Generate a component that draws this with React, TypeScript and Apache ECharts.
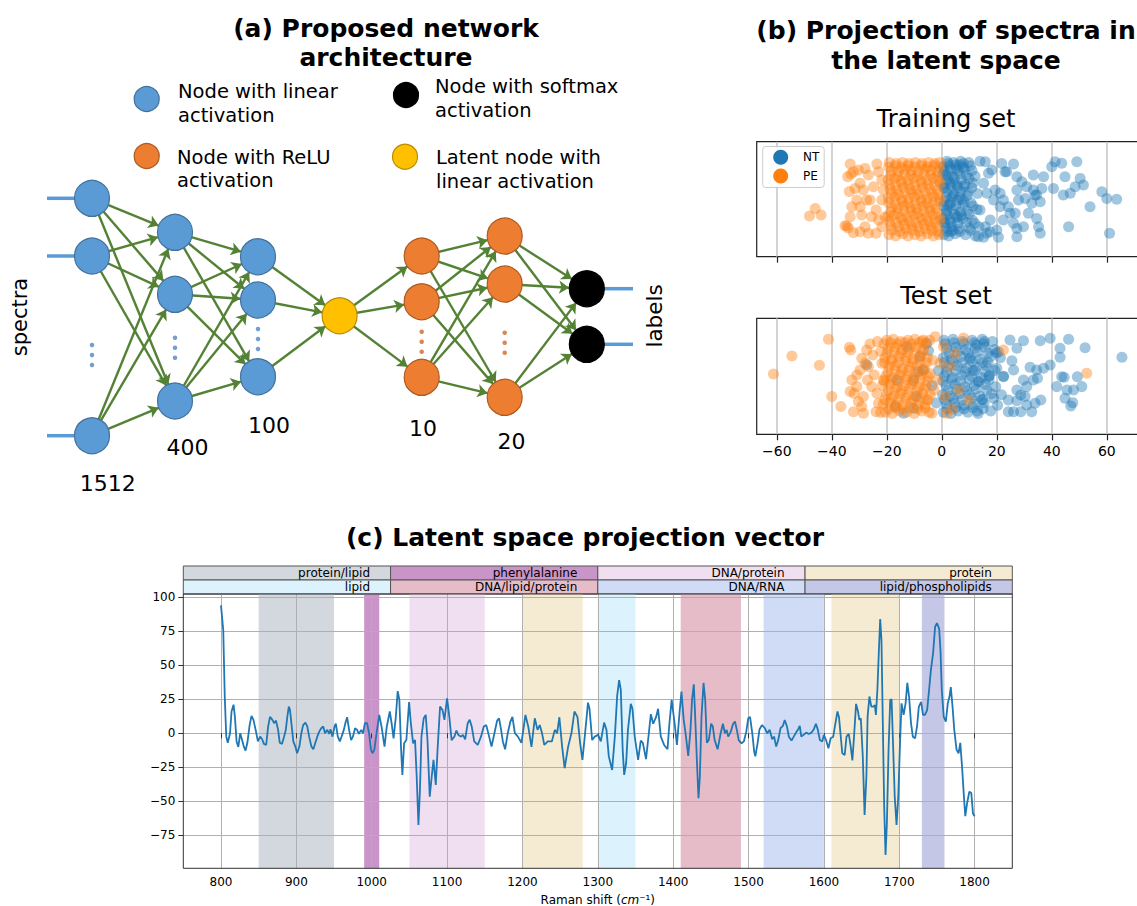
import React, { useEffect, useRef } from "react";
import * as echarts from "echarts";

const FONT = '"DejaVu Sans", Verdana, sans-serif';

// ---------------- (a) network architecture ----------------
const layerSizeLabels = ["1512", "400", "100", "", "10", "20", ""];
const nodeLegendTexts = [
  "Node with linear\nactivation",
  "Node with ReLU\nactivation",
  "Node with softmax\nactivation",
  "Latent node with\nlinear activation",
];

// ---------------- (b) latent projection ----------------
const bTicks = [-60, -40, -20, 0, 20, 40, 60];

const trainPE: number[][] = [
  [-48.1, 0.354], [-46.0, 0.42], [-43.9, 0.362],
  [-33.3, 0.806], [-33.0, 0.72], [-33.6, 0.567], [-32.1, 0.739], [-30.3, 0.754], [-29.7, 0.638],
  [-27.9, 0.768], [-26.7, 0.71], [-23.6, 0.806], [-23.0, 0.739], [-21.8, 0.667], [-33.3, 0.348],
  [-34.5, 0.267], [-32.1, 0.209], [-29.7, 0.435], [-29.1, 0.362], [-27.9, 0.261], [-26.1, 0.493],
  [-24.8, 0.609], [-23.9, 0.406], [-23.0, 0.319], [-21.8, 0.261], [-28.5, 0.58], [-27.3, 0.493],
  [-31.5, 0.594], [-30.9, 0.493], [-32.7, 0.435], [-25.5, 0.348], [-23.9, 0.203], [-21.8, 0.493],
  [-21.2, 0.58], [-26.7, 0.203], [-29.7, 0.217], [-34.2, 0.696], [-20.6, 0.348], [-35.2, 0.27], [-34.0, 0.25],
  [-19.2, 0.19], [-16.8, 0.18], [-14.1, 0.2], [-12.3, 0.18], [-9.8, 0.19], [-7.5, 0.18], [-5.2, 0.2], [-3.1, 0.18], [-1.0, 0.19],
  [-18.0, 0.23], [-15.3, 0.22], [-12.9, 0.24], [-10.6, 0.23], [-8.2, 0.22], [-5.9, 0.24], [-3.6, 0.23], [-1.3, 0.22],
  [-18.5, 0.27], [-15.9, 0.26], [-13.5, 0.28], [-11.0, 0.27], [-8.7, 0.26], [-6.4, 0.28], [-4.0, 0.27], [-1.8, 0.26],
  [-19.0, 0.31], [-16.5, 0.3], [-14.2, 0.32], [-11.8, 0.31], [-9.5, 0.3], [-7.1, 0.32], [-4.8, 0.31], [-2.6, 0.3], [-0.6, 0.32],
  [-19.6, 0.35], [-17.4, 0.36], [-15.0, 0.34], [-12.7, 0.35], [-10.1, 0.36], [-7.9, 0.34], [-5.6, 0.35], [-3.3, 0.36], [-0.9, 0.34],
  [-18.6, 0.39], [-16.2, 0.38], [-13.7, 0.4], [-11.2, 0.39], [-8.9, 0.38], [-6.6, 0.4], [-4.2, 0.39], [-1.9, 0.38],
  [-18.1, 0.43], [-16.0, 0.42], [-13.8, 0.44], [-11.4, 0.43], [-9.2, 0.42], [-6.8, 0.44], [-4.5, 0.43], [-2.2, 0.42],
  [-19.3, 0.47], [-16.9, 0.46], [-14.4, 0.48], [-12.2, 0.47], [-9.7, 0.46], [-7.6, 0.48], [-5.3, 0.47], [-3.1, 0.46], [-1.0, 0.48],
  [-19.4, 0.51], [-17.0, 0.52], [-14.6, 0.5], [-12.1, 0.51], [-9.9, 0.52], [-7.4, 0.5], [-5.1, 0.51], [-2.9, 0.52], [-0.7, 0.5],
  [-18.2, 0.55], [-15.7, 0.54], [-13.3, 0.56], [-10.9, 0.55], [-8.5, 0.54], [-6.1, 0.56], [-3.7, 0.55], [-1.4, 0.54],
  [-18.8, 0.59], [-16.3, 0.58], [-13.9, 0.6], [-11.6, 0.59], [-9.3, 0.58], [-7.0, 0.6], [-4.4, 0.59], [-1.6, 0.58],
  [-19.0, 0.63], [-16.7, 0.62], [-14.5, 0.64], [-12.0, 0.63], [-9.8, 0.62], [-7.3, 0.64], [-4.9, 0.63], [-2.7, 0.62], [-0.6, 0.64],
  [-19.5, 0.67], [-17.2, 0.68], [-14.9, 0.66], [-12.4, 0.67], [-10.2, 0.68], [-7.7, 0.66], [-5.4, 0.67], [-3.0, 0.68], [-1.1, 0.66],
  [-18.6, 0.71], [-16.1, 0.7], [-13.6, 0.72], [-11.3, 0.71], [-8.9, 0.7], [-6.5, 0.72], [-4.1, 0.71], [-1.8, 0.7],
  [-18.3, 0.75], [-15.8, 0.74], [-13.4, 0.76], [-11.1, 0.75], [-8.6, 0.74], [-6.2, 0.76], [-3.9, 0.75], [-1.5, 0.74],
  [-19.3, 0.78], [-17.0, 0.79], [-14.7, 0.78], [-12.2, 0.79], [-9.9, 0.78], [-7.5, 0.79], [-5.2, 0.78], [-2.9, 0.79], [-0.9, 0.78],
  [-19.1, 0.82], [-16.6, 0.81], [-14.3, 0.82], [-12.0, 0.81], [-9.6, 0.82], [-7.2, 0.81], [-4.8, 0.82], [-2.5, 0.81], [-0.8, 0.82],
];

const trainNT: number[][] = [
  [0.8, 0.19], [2.5, 0.18], [4.9, 0.2], [8.6, 0.19], [12.2, 0.18],
  [1.9, 0.22], [4.0, 0.23], [6.6, 0.22], [10.5, 0.23],
  [1.4, 0.25], [3.6, 0.26], [6.2, 0.24], [10.0, 0.25], [13.5, 0.26],
  [0.9, 0.29], [3.4, 0.3], [5.8, 0.29], [8.9, 0.3], [12.0, 0.29],
  [0.5, 0.33], [2.9, 0.32], [5.3, 0.34], [7.6, 0.33], [11.1, 0.32],
  [2.0, 0.36], [4.6, 0.37], [7.1, 0.36], [9.9, 0.37],
  [1.7, 0.4], [4.1, 0.41], [6.8, 0.39], [9.2, 0.4], [12.8, 0.41],
  [0.6, 0.44], [2.8, 0.45], [5.1, 0.44], [7.8, 0.45], [11.3, 0.44],
  [0.9, 0.48], [3.2, 0.47], [5.7, 0.49], [8.1, 0.48], [10.6, 0.47],
  [1.6, 0.52], [4.1, 0.53], [6.5, 0.52], [9.2, 0.53],
  [2.0, 0.56], [4.4, 0.55], [7.0, 0.57], [9.5, 0.56], [13.0, 0.55],
  [0.8, 0.6], [3.3, 0.61], [5.9, 0.6], [8.1, 0.61], [10.9, 0.6],
  [0.7, 0.63], [3.0, 0.64], [5.5, 0.62], [8.4, 0.63], [11.4, 0.64],
  [2.1, 0.67], [4.5, 0.68], [7.2, 0.67], [9.9, 0.68],
  [1.5, 0.71], [3.9, 0.7], [6.5, 0.72], [9.0, 0.71], [12.1, 0.7],
  [0.9, 0.75], [3.2, 0.76], [5.8, 0.75], [8.3, 0.76], [11.0, 0.75],
  [0.6, 0.78], [2.7, 0.79], [5.1, 0.77], [7.7, 0.78], [10.4, 0.79],
  [2.3, 0.81], [5.0, 0.8], [7.9, 0.81],
  [1.9, 0.83], [4.3, 0.82], [6.9, 0.83], [9.8, 0.82], [13.9, 0.83],
  [1.2, 0.3], [2.2, 0.45], [1.1, 0.6], [2.4, 0.7], [3.5, 0.52], [1.6, 0.38],
  [0.4, 0.72], [4.6, 0.64], [5.9, 0.35], [3.3, 0.22], [6.4, 0.8], [7.3, 0.5],
  [15.8, 0.826], [17.0, 0.725], [18.2, 0.754], [15.2, 0.638], [16.4, 0.551], [13.9, 0.406],
  [15.8, 0.261], [17.6, 0.319], [18.8, 0.493], [19.4, 0.58], [15.2, 0.17], [13.3, 0.174],
  [16.4, 0.203], [17.6, 0.217], [21.8, 0.81], [26.1, 0.806], [23.0, 0.739], [23.6, 0.739],
  [27.3, 0.696], [29.1, 0.652], [30.9, 0.609], [33.3, 0.71], [34.5, 0.536], [37.0, 0.696],
  [27.3, 0.58], [27.9, 0.493], [30.3, 0.507], [32.7, 0.464], [33.9, 0.536], [35.8, 0.478],
  [31.5, 0.377], [34.5, 0.333], [35.2, 0.261], [35.8, 0.203], [26.7, 0.377], [27.3, 0.246],
  [27.3, 0.174], [29.7, 0.261], [22.4, 0.493], [24.2, 0.435], [24.8, 0.377], [21.2, 0.551],
  [26.1, 0.29], [21.2, 0.435], [22.4, 0.319], [20.0, 0.232], [20.6, 0.17],
  [40.0, 0.783], [41.2, 0.826], [43.6, 0.812], [49.1, 0.826], [44.8, 0.696], [50.3, 0.681],
  [48.5, 0.609], [51.5, 0.623], [40.6, 0.594], [44.2, 0.536], [46.7, 0.551], [53.9, 0.435],
  [58.2, 0.565], [60.0, 0.507], [63.6, 0.5], [46.1, 0.261], [61.0, 0.203], [36.4, 0.594], [33.3, 0.58],
];

const testPE: number[][] = [
  [-61.2, 0.52], [-54.5, 0.675], [-44.5, 0.595], [-41.2, 0.82], [-40.0, 0.325], [-36.7, 0.24],
  [-33.6, 0.75], [-33.1, 0.727],
  [-32.7, 0.468], [-33.3, 0.368], [-31.9, 0.353], [-30.9, 0.411], [-32.1, 0.195], [-30.3, 0.282],
  [-29.1, 0.239], [-28.5, 0.181], [-29.7, 0.555], [-27.9, 0.612], [-29.1, 0.655], [-27.3, 0.727],
  [-26.1, 0.779], [-25.1, 0.684], [-24.6, 0.511], [-25.5, 0.411], [-23.6, 0.353], [-23.0, 0.267],
  [-23.9, 0.195], [-22.2, 0.187], [-21.8, 0.612], [-23.4, 0.799], [-22.2, 0.713], [-21.2, 0.468],
  [-27.0, 0.468], [-28.5, 0.325], [-26.7, 0.583], [-30.9, 0.511],
  [-20.5, 0.19], [-18.0, 0.18], [-15.4, 0.2], [-12.8, 0.19], [-10.0, 0.18], [-7.3, 0.2], [-4.6, 0.19],
  [-19.3, 0.22], [-16.8, 0.23], [-14.1, 0.22], [-11.5, 0.23], [-8.8, 0.22], [-6.0, 0.23],
  [-21.3, 0.26], [-19.0, 0.27], [-16.6, 0.25], [-14.0, 0.26], [-11.2, 0.27], [-8.7, 0.25], [-6.0, 0.26],
  [-20.7, 0.3], [-18.3, 0.31], [-15.8, 0.3], [-13.2, 0.31], [-10.5, 0.3], [-7.8, 0.31], [-5.0, 0.3],
  [-20.1, 0.34], [-17.5, 0.33], [-15.0, 0.35], [-12.4, 0.34], [-9.6, 0.33], [-7.0, 0.35], [-4.2, 0.34],
  [-19.5, 0.38], [-17.0, 0.39], [-14.5, 0.38], [-11.8, 0.39], [-9.1, 0.38], [-6.4, 0.39],
  [-21.6, 0.42], [-18.9, 0.43], [-16.2, 0.41], [-13.5, 0.42], [-11.0, 0.43], [-8.3, 0.41], [-5.7, 0.42],
  [-20.9, 0.46], [-18.4, 0.47], [-15.7, 0.46], [-13.0, 0.47], [-10.4, 0.46], [-7.9, 0.47], [-5.2, 0.46],
  [-20.4, 0.5], [-17.8, 0.49], [-15.3, 0.51], [-12.6, 0.5], [-10.1, 0.49], [-7.5, 0.51], [-4.9, 0.5],
  [-19.6, 0.54], [-17.1, 0.55], [-14.6, 0.54], [-12.0, 0.55], [-9.4, 0.54], [-6.8, 0.55],
  [-19.2, 0.58], [-16.8, 0.59], [-14.2, 0.57], [-11.7, 0.58], [-9.0, 0.59], [-6.3, 0.57],
  [-20.8, 0.62], [-18.2, 0.63], [-15.7, 0.62], [-13.1, 0.63], [-10.6, 0.62], [-8.0, 0.63], [-5.6, 0.62],
  [-20.7, 0.66], [-18.1, 0.65], [-15.6, 0.67], [-13.0, 0.66], [-10.5, 0.65], [-7.9, 0.67], [-5.2, 0.66],
  [-19.9, 0.7], [-17.4, 0.71], [-14.8, 0.7], [-12.4, 0.71], [-9.8, 0.7], [-7.1, 0.71],
  [-19.5, 0.74], [-17.0, 0.75], [-14.4, 0.73], [-11.9, 0.74], [-9.3, 0.75], [-6.6, 0.73],
  [-21.0, 0.78], [-18.6, 0.79], [-16.1, 0.78], [-13.5, 0.79], [-11.0, 0.78], [-8.4, 0.79], [-5.8, 0.78],
  [-20.0, 0.81], [-17.6, 0.82], [-15.0, 0.8], [-12.3, 0.81], [-9.8, 0.82], [-7.2, 0.8], [-4.4, 0.81],
  [-6.7, 0.813], [-2.4, 0.842], [-3.3, 0.638], [-4.2, 0.523], [-2.8, 0.382], [-5.5, 0.296],
  [-3.6, 0.181], [-1.6, 0.468], [1.2, 0.325], [3.0, 0.583], [6.1, 0.382], [3.9, 0.218],
  [7.9, 0.83], [22.4, 0.727], [52.7, 0.526], [0.6, 0.756], [-0.6, 0.612], [4.8, 0.695],
  [9.7, 0.296], [1.8, 0.181],
];

const testNT: number[][] = [
  [-17.0, 0.239], [-12.7, 0.756], [-7.9, 0.67], [-8.5, 0.54], [-13.9, 0.181], [-10.3, 0.468],
  [-6.7, 0.555], [-9.1, 0.325], [-5.5, 0.784], [-10.3, 0.224], [-27.3, 0.6], [-16.4, 0.468],
  [-3.5, 0.42], [-2.0, 0.27], [-4.8, 0.72], [-1.2, 0.55],
  [0.6, 0.19], [3.3, 0.18], [6.0, 0.2], [9.5, 0.19], [13.2, 0.18], [17.8, 0.2],
  [2.1, 0.22], [5.0, 0.23], [8.1, 0.22], [11.4, 0.23], [15.0, 0.22],
  [1.8, 0.26], [4.6, 0.27], [8.0, 0.25], [11.6, 0.26], [15.4, 0.27], [20.3, 0.25],
  [1.0, 0.3], [4.1, 0.31], [7.3, 0.3], [10.9, 0.31], [14.6, 0.3], [18.9, 0.31],
  [0.3, 0.34], [3.0, 0.33], [6.5, 0.35], [10.2, 0.34], [13.8, 0.33], [18.1, 0.35], [21.7, 0.34],
  [2.3, 0.38], [5.4, 0.39], [9.0, 0.38], [12.5, 0.39], [16.4, 0.38],
  [1.5, 0.42], [4.9, 0.43], [8.4, 0.41], [11.9, 0.42], [15.9, 0.43], [19.6, 0.41],
  [0.4, 0.46], [3.6, 0.47], [6.9, 0.46], [10.1, 0.47], [13.3, 0.46], [17.2, 0.47],
  [0.9, 0.5], [3.8, 0.49], [7.2, 0.51], [10.8, 0.5], [14.3, 0.49], [17.4, 0.51], [22.5, 0.5],
  [1.8, 0.54], [5.1, 0.55], [8.6, 0.54], [12.0, 0.55], [15.7, 0.54], [19.3, 0.55],
  [2.2, 0.58], [5.6, 0.59], [9.0, 0.57], [12.6, 0.58], [16.2, 0.59], [20.0, 0.57],
  [0.9, 0.62], [4.0, 0.63], [7.4, 0.62], [11.1, 0.63], [14.8, 0.62],
  [0.5, 0.66], [3.4, 0.65], [6.9, 0.67], [10.4, 0.66], [13.9, 0.65], [17.7, 0.67], [21.3, 0.66],
  [2.6, 0.7], [5.8, 0.71], [9.5, 0.7], [13.0, 0.71], [16.9, 0.7], [20.6, 0.71],
  [1.9, 0.74], [5.0, 0.75], [8.7, 0.73], [12.1, 0.74], [15.6, 0.75], [19.2, 0.73],
  [1.2, 0.78], [4.5, 0.79], [8.0, 0.78], [11.8, 0.79], [15.2, 0.78],
  [0.8, 0.81], [4.1, 0.82], [7.6, 0.8], [11.0, 0.81], [14.7, 0.82], [18.4, 0.8],
  [12.5, 0.77], [11.3, 0.55], [13.6, 0.45], [16.8, 0.62], [14.9, 0.3], [17.1, 0.5],
  [19.8, 0.7], [12.9, 0.2], [10.1, 0.65], [15.5, 0.8],
  [24.8, 0.813], [27.3, 0.741], [29.7, 0.807], [35.8, 0.807], [39.4, 0.828], [46.1, 0.819],
  [43.0, 0.741], [43.0, 0.664], [52.1, 0.747], [65.5, 0.664], [34.5, 0.555], [37.0, 0.569],
  [39.4, 0.598], [33.3, 0.468], [34.8, 0.483], [43.6, 0.497], [44.5, 0.491], [49.3, 0.497],
  [41.8, 0.411], [45.5, 0.382], [47.9, 0.382], [50.9, 0.411], [30.9, 0.411], [27.3, 0.382],
  [28.7, 0.339], [24.2, 0.296], [27.3, 0.29], [30.3, 0.325], [36.0, 0.296], [33.9, 0.267],
  [30.9, 0.253], [44.8, 0.31], [46.9, 0.244], [47.6, 0.273], [24.2, 0.195], [26.1, 0.195],
  [28.7, 0.195], [32.7, 0.195], [25.5, 0.635], [26.1, 0.555], [22.4, 0.497], [32.1, 0.578], [29.7, 0.468],
];

// ---------------- (c) latent space projection vector ----------------
const ramanTicks = [800, 900, 1000, 1100, 1200, 1300, 1400, 1500, 1600, 1700, 1800];
const cYTicks = [-75, -50, -25, 0, 25, 50, 75, 100];

const latentVector: number[][] = [
  [800, 94], [803, 76], [805, 27], [807, -2.5], [809, -7], [812, 0], [814, 16], [816.7, 21], [818.5, 12],
  [820.7, -6], [823, -10], [825.5, 0], [828, -5], [830.4, -10], [832.6, -12.7], [835, -7], [838, 6],
  [840.5, 12.7], [843, 10], [846, 2.5], [849, -6], [852, -2.5], [854.6, -4.4], [857, -7.8], [860, -8.6],
  [862.6, 5], [865, 12], [868, 10], [870.5, 7.4], [873, 9.3], [875.8, 2.5], [878, -7], [881, -7.8],
  [883.7, -2.5], [886, 2.5], [888, 12], [890, 19.6], [891.6, 17], [893.4, 7.4], [896, -6], [898.7, -9.8],
  [901, -14.7], [904, -9.8], [906.6, 0], [909, 6], [912, 7.8], [914.5, 5], [917, -2.5], [920, -9.8],
  [922.5, -11.8], [925, -7.4], [927.8, -2.5], [930.4, 1.2], [933, 3.7], [935.7, 5], [938, 0], [941, 2.5],
  [943.6, -0.5], [945.4, 3], [948, -2.5], [950.7, 5], [952.4, 7], [955, -2.5], [957.7, -6], [960, -2.5],
  [963, 2.5], [965.6, 8.6], [967.4, 11.8], [970, 2.5], [972.7, -5], [975, -2.5], [978, 3.7], [980.6, 2.5],
  [983, -0.5], [986, 2.5], [988.5, 0], [991, 7.4], [993.8, 7.4], [996.5, 0],
  [999, -12], [1001, -14.7], [1003.5, -12], [1007, 2.5], [1010, 13.5], [1013, 5], [1017, -9.8], [1020, 5],
  [1024, 16], [1026.5, 7], [1029, -3.7], [1032, 12], [1034.5, 31], [1036.7, 24.5], [1039, -12],
  [1040.7, -30.6], [1043, -7.4], [1046, -5], [1049.6, 23], [1052, 7], [1055, -7.4], [1057.5, -5],
  [1059.7, -32], [1062, -67.4], [1064, -41.7], [1066, -2.5], [1069, 11], [1071.7, 13.5], [1074, -5],
  [1077, -46.6], [1079.6, -32], [1082, -19.6], [1085, -38], [1087.6, -9.8], [1090.7, 19.6], [1094, 17],
  [1096.5, 9.8], [1100, 25.7], [1103, 12], [1106, -5], [1109.7, -2.5], [1112.4, 2], [1115, -1.2],
  [1118.6, -2.5], [1121, -1.2], [1124, -4.4], [1127.4, 7.4], [1130, 10], [1132.7, 5], [1136, -6],
  [1140.7, -8.6], [1145, -2.5], [1148.7, 5], [1152, 6], [1155.8, -2.5], [1159, -9.8], [1162.8, 0],
  [1166.4, 9.3], [1169, 11], [1171.7, 2.5], [1174, -6], [1177, -11.8], [1180.5, 0], [1184, 8.6],
  [1186.7, 12], [1190, 0], [1194, -2.5], [1198.7, -7],
  [1204, 13.5], [1207.7, 5], [1212, -10], [1216.4, 11], [1220, 2.5], [1223, 6], [1226, 0], [1229, -8.6],
  [1233.6, -6], [1239, -6], [1243, 2.5], [1246, 0], [1249, 11.8], [1252.7, -10], [1256, -25.7],
  [1260.6, -10], [1265, 0], [1269, 16], [1273, 12], [1276.5, -7], [1279.6, -19.6], [1282.7, -2.5],
  [1287, 22.5], [1289, 18], [1292.5, -5], [1296, -2.5], [1300.4, -1.2], [1304, -6], [1308.4, 7.8],
  [1311.5, 2.5], [1314.6, -17], [1319, -27], [1322.6, -2.5], [1325.7, 27.5], [1328.3, 39], [1330.5, 32],
  [1333, -12], [1335, -30.6], [1337.6, -22], [1340, 2.5], [1343.8, 21.6], [1346, 18], [1349, -2.5],
  [1353.5, -19.6], [1357, -5.4], [1359.7, -7], [1364, -19], [1367.7, 0], [1370.4, 14], [1373.5, 7],
  [1377.4, 12], [1380, 18], [1383.6, -2.5], [1388, -8.6], [1392.5, -11.8], [1395, 7], [1398, 24.5],
  [1402, 7], [1405, -8.6], [1408.4, 14.7], [1411, 30.6], [1414, 9.8], [1417, -2.5], [1420, -16.7],
  [1423, 2.5], [1425, 24.5], [1427.4, 36], [1429.6, 7], [1431.8, -24.5], [1433.6, -47.8], [1435.4, -32],
  [1437.6, 12], [1440.3, 37], [1442.5, 24.5], [1444.7, -7], [1447.3, -5], [1450.4, 7], [1452.6, 5],
  [1455, -5], [1459, -11.8], [1463, 0], [1466, 7], [1468.6, 0], [1471, 2.5], [1473, -2.5], [1476.5, 1.2],
  [1479.6, 7], [1482, 8.6], [1484.5, 2.5], [1487, -5], [1490.7, -7.4], [1493.8, -6], [1497, 1.2],
  [1499.6, 11], [1502, 12], [1505, 0], [1507.5, -13.5], [1509, -17], [1512, -7.4], [1514.6, 3],
  [1518, 6], [1521.7, 3.7], [1524.8, 0], [1528, 2.5], [1531.4, -4.4], [1534, -2.5], [1536.7, -9.8],
  [1539.4, -5], [1542.5, 3.7], [1545.6, 5.4], [1548, 9.8], [1551, 5], [1553.5, -2.5], [1557, -5.4],
  [1560, -2.5], [1563, 0.5], [1566, 3], [1568, 5.4], [1570, -2.5], [1573, -1.2], [1576.5, 0.5],
  [1580, -0.5], [1583.6, 0.5], [1586.7, 3], [1589.4, 7], [1592, 2.5], [1594.7, -5], [1597.8, -6],
  [1600, -1.2], [1603.5, -6], [1606, -11], [1609, -3.7], [1612.4, -2.5], [1614.7, 5.4], [1618, 16],
  [1620, 12], [1622, 0], [1624.4, -14.7], [1627.6, -16], [1630, -2.5], [1633, -0.5], [1635.6, -9.8],
  [1637.8, -20], [1640, -2.5], [1642.7, 21.6], [1645.3, 16], [1647, 9.8], [1649, 11], [1651.6, -17],
  [1654, -60], [1656.4, -32], [1658, 12], [1660.4, 27], [1663, 19.6], [1665.8, 19.6], [1667.6, 20.8],
  [1669, 13.5], [1671, 32], [1673, 61], [1674.7, 84], [1676.4, 68.6], [1678.2, 7.4], [1680, -54],
  [1681.8, -89.5], [1683.6, -66], [1685.8, -12], [1688, 24.5], [1689.8, 25], [1691.6, -5], [1694, -46.6],
  [1696.4, -67.4], [1698.7, -46.6], [1701, -7.4], [1703, 22], [1705.8, 13.5], [1708.4, 22], [1710.7, 37],
  [1713, 27], [1715.6, 7.4], [1718, -2.5], [1721, -3.7], [1723.6, 5], [1726, 19.6], [1729, 23],
  [1731.6, 13.5], [1734, 13.5], [1737, 17], [1739.6, 32], [1742, 46.6], [1744.9, 58.8], [1747.6, 78.4],
  [1750, 81], [1752.9, 77], [1754.7, 61], [1756.4, 32], [1759, 12], [1761.8, 8.6], [1764.4, 22],
  [1766.7, 27], [1768.4, 34], [1770.7, 19.6], [1773, 2.5], [1776, -12], [1778.7, -14.7], [1781, -7],
  [1783.6, -27], [1785.8, -46.6], [1787.6, -61], [1790, -51.5], [1793, -43], [1795.6, -44], [1797.8, -59],
  [1800, -61],
];

const bandRanges: number[][] = [
  [850, 950], [990, 1010], [1050, 1150], [1200, 1280], [1300, 1350],
  [1410, 1490], [1520, 1600], [1610, 1700], [1730, 1760],
];
const bandLegendRow1 = ["protein/lipid", "phenylalanine", "DNA/protein", "protein"];
const bandLegendRow2 = ["lipid", "DNA/lipid/protein", "DNA/RNA", "lipid/phospholipids"];

// ---------------- styles / layout ----------------
const C_GRAY = "#d3d8df";
const C_PURPLE = "#c994c7";
const C_LPINK = "#f0dff0";
const C_BEIGE = "#f5ebd2";
const C_CYAN = "#dcf2fc";
const C_PINK = "#e6bcc8";
const C_LBLUE = "#d0dbf6";
const C_LAV = "#c5c7e6";
const bandColors = [C_GRAY, C_PURPLE, C_LPINK, C_BEIGE, C_CYAN, C_PINK, C_LBLUE, C_BEIGE, C_LAV];
const legendRow1Colors = [C_GRAY, C_PURPLE, C_LPINK, C_BEIGE];
const legendRow2Colors = [C_CYAN, C_PINK, C_LBLUE, C_LAV];

const NODE_BLUE = { color: "#5b9bd5", borderColor: "#41719c", borderWidth: 1.2 };
const NODE_ORANGE = { color: "#ed7d31", borderColor: "#ae5a21", borderWidth: 1.2 };
const NODE_YELLOW = { color: "#ffc000", borderColor: "#bc8c00", borderWidth: 1.2 };
const NODE_BLACK = { color: "#000000", borderColor: "#000000", borderWidth: 1.2 };

const NET_X = [92, 175, 258, 339.6, 421.7, 504.7, 586.8];
const NET_Y = [
  [198.3, 256, 435.7],
  [232.3, 294.3, 401],
  [256.7, 300, 376.7],
  [315.7],
  [256, 301.7, 377.3],
  [236, 284, 397.3],
  [288.7, 344.3],
];
const NET_STYLE = [NODE_BLUE, NODE_BLUE, NODE_BLUE, NODE_YELLOW, NODE_ORANGE, NODE_ORANGE, NODE_BLACK];
const DOT_Y: (number[] | null)[] = [
  [345, 355, 365],
  [337.7, 347.7, 357.7],
  [329, 339, 349],
  null,
  [331.7, 341.7, 351.7],
  [332.7, 342.7, 352.7],
  null,
];
const DOT_COLOR = ["#4f86c6", "#4f86c6", "#4f86c6", "", "#d0692a", "#d0692a", ""];
const SIZE_LABEL_POS: (number[] | null)[] = [
  [107.7, 483.3], [187.5, 447.7], [269, 425], null, [423, 428.3], [511.4, 441.7], null,
];

function minusFmt(v: number) {
  return v < 0 ? "\u2212" + Math.abs(v) : String(v);
}

function txt(x: number, y: number, text: string, font: string, align = "center", extra: any = {}) {
  return {
    type: "text",
    x,
    y,
    silent: true,
    ...extra,
    style: {
      text,
      font,
      fill: "#000",
      align,
      verticalAlign: "middle",
      textAlign: align,
      textVerticalAlign: "middle",
    },
  };
}

function buildOption(): any {
  // ----- network graph -----
  const nodes: any[] = [];
  const idx: number[][] = [];
  NET_Y.forEach((ys, li) => {
    idx[li] = [];
    ys.forEach((y) => {
      idx[li].push(nodes.length);
      nodes.push({ value: [NET_X[li], y], symbolSize: [35, 36], itemStyle: NET_STYLE[li] });
    });
  });
  const links: any[] = [];
  for (let li = 0; li < NET_Y.length - 1; li++) {
    for (const s of idx[li]) for (const t of idx[li + 1]) links.push({ source: s, target: t });
  }
  const dots: any[] = [];
  DOT_Y.forEach((ys, li) => {
    if (!ys) return;
    ys.forEach((y) => dots.push({ value: [NET_X[li], y], itemStyle: { color: DOT_COLOR[li] } }));
  });

  const graphic: any[] = [];
  // titles
  graphic.push(txt(386, 28, "(a) Proposed network", `bold 25px ${FONT}`));
  graphic.push(txt(386, 57, "architecture", `bold 25px ${FONT}`));
  graphic.push(txt(946, 30, "(b) Projection of spectra in", `bold 25px ${FONT}`));
  graphic.push(txt(946, 60, "the latent space", `bold 25px ${FONT}`));
  graphic.push(txt(946, 118.5, "Training set", `24px ${FONT}`));
  graphic.push(txt(946, 295.5, "Test set", `24px ${FONT}`));
  graphic.push(txt(585, 537, "(c) Latent space projection vector", `bold 25px ${FONT}`));

  // node legend (a)
  const legPos = [
    { cx: 146.7, cy: 99, tx: 178, ty: 103.4, st: NODE_BLUE },
    { cx: 146.7, cy: 156, tx: 177, ty: 169, st: NODE_ORANGE },
    { cx: 406, cy: 95, tx: 435, ty: 98.7, st: NODE_BLACK },
    { cx: 405, cy: 156.7, tx: 436, ty: 169.5, st: NODE_YELLOW },
  ];
  legPos.forEach((p, i) => {
    graphic.push({
      type: "circle",
      silent: true,
      shape: { cx: p.cx, cy: p.cy, r: 12.5 },
      style: { fill: p.st.color, stroke: p.st.borderColor, lineWidth: 1.2 },
    });
    graphic.push({
      type: "text",
      x: p.tx,
      y: p.ty,
      silent: true,
      style: {
        text: nodeLegendTexts[i],
        font: `19.5px ${FONT}`,
        fill: "#000",
        lineHeight: 23.5,
        align: "left",
        verticalAlign: "middle",
        textAlign: "left",
        textVerticalAlign: "middle",
      },
    });
  });
  // input & output lines
  NET_Y[0].forEach((y) =>
    graphic.push({ type: "line", silent: true, shape: { x1: 47, y1: y, x2: 74.5, y2: y }, style: { stroke: "#5b9bd5", lineWidth: 3.5 } })
  );
  NET_Y[6].forEach((y) =>
    graphic.push({ type: "line", silent: true, shape: { x1: 604, y1: y, x2: 633, y2: y }, style: { stroke: "#5b9bd5", lineWidth: 3.5 } })
  );
  // layer size labels
  SIZE_LABEL_POS.forEach((p, li) => {
    if (!p) return;
    graphic.push(txt(p[0], p[1], layerSizeLabels[li], `22px ${FONT}`));
  });
  graphic.push(txt(20, 317, "spectra", `21px ${FONT}`, "center", { rotation: Math.PI / 2 }));
  graphic.push(txt(654, 316, "labels", `21.5px ${FONT}`, "center", { rotation: Math.PI / 2 }));

  // (b) legend
  graphic.push({
    type: "rect",
    silent: true,
    shape: { x: 762.7, y: 146.5, width: 61.5, height: 41, r: 3 },
    style: { fill: "rgba(255,255,255,0.85)", stroke: "#cccccc", lineWidth: 1 },
    z: 10,
  });
  graphic.push({ type: "circle", silent: true, z: 11, shape: { cx: 780.7, cy: 157.3, r: 7.5 }, style: { fill: "#1f77b4" } });
  graphic.push({ type: "circle", silent: true, z: 11, shape: { cx: 780.7, cy: 176, r: 7.5 }, style: { fill: "#ff7f0e" } });
  graphic.push({ ...txt(803, 157.3, "NT", `12px ${FONT}`, "left"), z: 11 });
  graphic.push({ ...txt(803, 176, "PE", `12px ${FONT}`, "left"), z: 11 });

  // (c) band label legend cells
  const cLeft = 183.3;
  const cWidth = 829;
  const cellW = cWidth / 4;
  [bandLegendRow1, bandLegendRow2].forEach((row, ri) => {
    const colors = ri === 0 ? legendRow1Colors : legendRow2Colors;
    const top = ri === 0 ? 566 : 580;
    row.forEach((label, ci) => {
      graphic.push({
        type: "rect",
        silent: true,
        shape: { x: cLeft + ci * cellW, y: top, width: cellW, height: 14 },
        style: { fill: colors[ci], stroke: "#555555", lineWidth: 1 },
      });
      graphic.push(txt(cLeft + (ci + 1) * cellW - 20.5, top + 7.3, label, `12px ${FONT}`, "right"));
    });
  });

  const scatterCommon = {
    type: "scatter",
    symbolSize: 11,
    silent: true,
    emphasis: { disabled: true },
  };

  const bXAxisBase = {
    type: "value",
    min: -67.3,
    max: 72.4,
    axisLine: { show: false },
    axisTick: { show: true, length: 6, customValues: bTicks, lineStyle: { color: "#222", width: 1.2 } },
    splitLine: { show: true, customValues: bTicks, lineStyle: { color: "#c4c4c4", width: 1.5 } },
  };

  return {
    animation: false,
    backgroundColor: "#ffffff",
    textStyle: { fontFamily: FONT },
    grid: [
      { left: 0, top: 0, width: 1137, height: 906, show: false, containLabel: false, outerBoundsMode: "none" },
      { left: 756.7, top: 141.7, width: 384.2, height: 115, show: true, borderColor: "#222", borderWidth: 1.2, containLabel: false, outerBoundsMode: "none" },
      { left: 756.7, top: 318.3, width: 384.2, height: 116, show: true, borderColor: "#222", borderWidth: 1.2, containLabel: false, outerBoundsMode: "none" },
      { left: 183.3, top: 594, width: 829, height: 274.3, show: true, borderColor: "#333", borderWidth: 1, z: 4, containLabel: false, outerBoundsMode: "none" },
    ],
    xAxis: [
      { gridIndex: 0, type: "value", min: 0, max: 1137, show: false },
      { ...bXAxisBase, gridIndex: 1, axisLabel: { show: false } },
      {
        ...bXAxisBase,
        gridIndex: 2,
        axisLabel: { show: true, customValues: bTicks, formatter: minusFmt, fontSize: 14, color: "#000", margin: 10, fontFamily: FONT },
      },
      {
        gridIndex: 3,
        type: "value",
        min: 750,
        max: 1850,
        z: 3,
        axisLine: { show: false },
        axisTick: { show: true, length: 5, customValues: ramanTicks, lineStyle: { color: "#333" } },
        axisLabel: {
          show: true,
          customValues: ramanTicks,
          formatter: (v: number) => String(v),
          fontSize: 12,
          color: "#000",
          margin: 8,
          fontFamily: FONT,
        },
        splitLine: { show: true, customValues: ramanTicks, lineStyle: { color: "#b0b0b0", width: 1 } },
        name: "Raman shift ({i|cm}⁻¹)",
        nameLocation: "middle",
        nameGap: 26,
        nameTextStyle: { fontSize: 12, color: "#000", fontFamily: FONT, rich: { i: { fontStyle: "italic", fontSize: 12, fontFamily: FONT } } },
      },
    ],
    yAxis: [
      { gridIndex: 0, type: "value", min: 0, max: 906, inverse: true, show: false },
      { gridIndex: 1, type: "value", min: 0, max: 1, show: false },
      { gridIndex: 2, type: "value", min: 0, max: 1, show: false },
      {
        gridIndex: 3,
        type: "value",
        min: -99.3,
        max: 102.4,
        z: 3,
        axisLine: { show: false },
        axisTick: { show: true, length: 5, customValues: cYTicks, lineStyle: { color: "#333" } },
        axisLabel: { show: true, customValues: cYTicks, formatter: minusFmt, fontSize: 12, color: "#000", margin: 8, fontFamily: FONT },
        splitLine: { show: true, customValues: cYTicks, lineStyle: { color: "#b0b0b0", width: 1 } },
      },
    ],
    series: [
      {
        type: "graph",
        coordinateSystem: "cartesian2d",
        xAxisIndex: 0,
        yAxisIndex: 0,
        data: nodes,
        links,
        symbol: "circle",
        edgeSymbol: ["none", "arrow"],
        edgeSymbolSize: 10,
        lineStyle: { color: "#548235", width: 2.4, opacity: 1, curveness: 0 },
        label: { show: false },
        emphasis: { disabled: true },
        silent: true,
        z: 3,
      },
      {
        type: "scatter",
        xAxisIndex: 0,
        yAxisIndex: 0,
        data: dots,
        symbolSize: 4.5,
        silent: true,
        z: 3,
      },
      { ...scatterCommon, name: "NT", xAxisIndex: 1, yAxisIndex: 1, data: trainNT, itemStyle: { color: "#1f77b4", opacity: 0.42 } },
      { ...scatterCommon, name: "PE", xAxisIndex: 1, yAxisIndex: 1, data: trainPE, itemStyle: { color: "#ff7f0e", opacity: 0.42 } },
      { ...scatterCommon, name: "NT", xAxisIndex: 2, yAxisIndex: 2, data: testNT, itemStyle: { color: "#1f77b4", opacity: 0.42 } },
      { ...scatterCommon, name: "PE", xAxisIndex: 2, yAxisIndex: 2, data: testPE, itemStyle: { color: "#ff7f0e", opacity: 0.42 } },
      {
        type: "line",
        xAxisIndex: 3,
        yAxisIndex: 3,
        data: [[760, 0]],
        showSymbol: false,
        symbol: "none",
        lineStyle: { opacity: 0 },
        silent: true,
        z: 1,
        markArea: {
          silent: true,
          itemStyle: { opacity: 1 },
          data: bandRanges.map((r, i) => [
            { xAxis: r[0], itemStyle: { color: bandColors[i], opacity: 1 } },
            { xAxis: r[1] },
          ]),
        },
      },
      {
        type: "line",
        xAxisIndex: 3,
        yAxisIndex: 3,
        data: latentVector,
        showSymbol: false,
        symbol: "none",
        lineStyle: { color: "#1f77b4", width: 1.8 },
        silent: true,
        z: 5,
      },
    ],
    graphic,
  };
}

export default function App() {
  const ref = useRef<HTMLDivElement>(null);
  useEffect(() => {
    if (!ref.current) return;
    const chart = echarts.init(ref.current, undefined, { renderer: "svg" });
    chart.setOption(buildOption());
    return () => chart.dispose();
  }, []);
  return (
    <div
      ref={ref}
      style={{ position: "absolute", left: 0, top: 0, width: 1137, height: 906, background: "#fff" }}
    />
  );
}
